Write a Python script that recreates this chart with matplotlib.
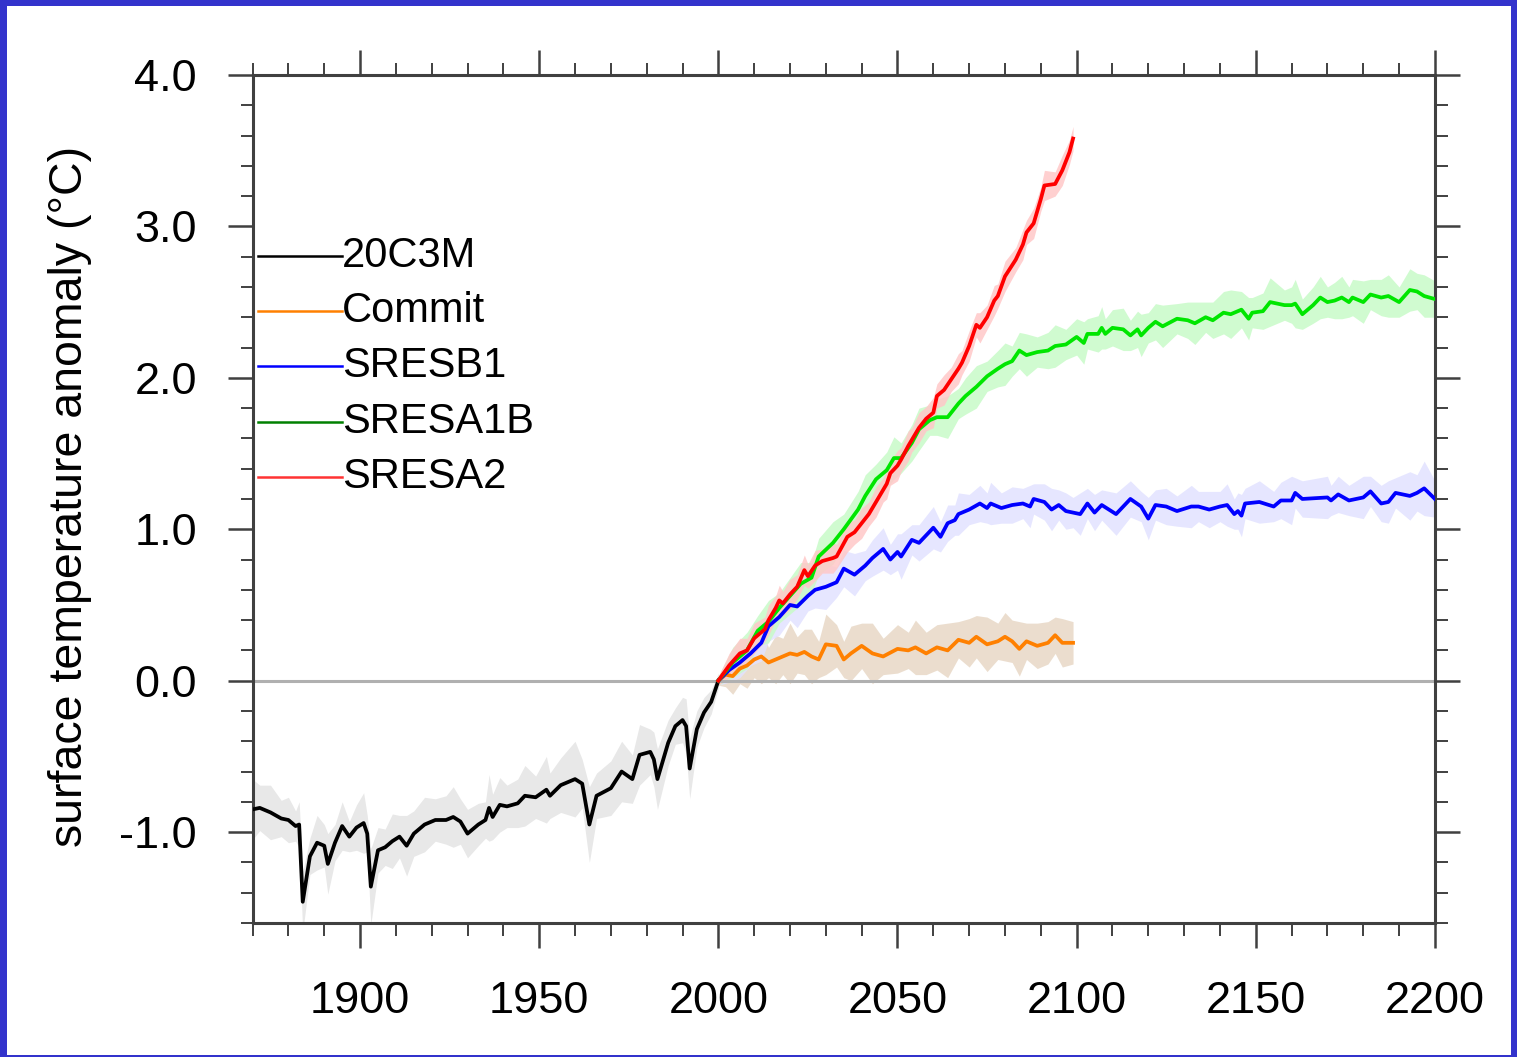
import matplotlib
matplotlib.use('Agg')
import matplotlib.pyplot as plt
from matplotlib.patches import Rectangle
from matplotlib.ticker import MultipleLocator

plt.rcParams['font.family'] = ['Liberation Sans', 'DejaVu Sans']

######### dados

# 20C3M, historico
hist_years = [1870, 1872, 1875, 1878, 1880, 1882, 1883, 1884, 1886, 1888, 1890, 1891, 1893, 1895,
              1897, 1899, 1901, 1902, 1903, 1905, 1907, 1909, 1911, 1913, 1915, 1918, 1921, 1924,
              1926, 1928, 1930, 1933, 1935, 1936, 1937, 1939, 1941, 1944, 1946, 1949, 1952, 1953,
              1956, 1960, 1962, 1964, 1966, 1970, 1973, 1976, 1978, 1981, 1982, 1983, 1986, 1988,
              1990, 1991, 1992, 1994, 1996, 1998, 2000]
hist_temp = [-0.85, -0.84, -0.87, -0.91, -0.92, -0.96, -0.95, -1.46, -1.16, -1.07, -1.09, -1.21, -1.07, -0.96,
             -1.03, -0.97, -0.94, -1.01, -1.36, -1.12, -1.10, -1.06, -1.03, -1.09, -1.01, -0.95, -0.92, -0.92,
             -0.90, -0.93, -1.01, -0.95, -0.92, -0.84, -0.90, -0.82, -0.83, -0.81, -0.76, -0.77, -0.72, -0.76,
             -0.69, -0.65, -0.68, -0.95, -0.76, -0.71, -0.60, -0.65, -0.49, -0.47, -0.52, -0.65, -0.41, -0.30,
             -0.26, -0.30, -0.58, -0.32, -0.21, -0.14, 0.00]
hist_spread = [0.20, 0.15, 0.18, 0.12, 0.15, 0.10, 0.15, 0.20, 0.12, 0.18, 0.14, 0.20, 0.12, 0.16,
               0.10, 0.15, 0.20, 0.12, 0.25, 0.15, 0.12, 0.18, 0.14, 0.20, 0.15, 0.18, 0.14, 0.16,
               0.20, 0.15, 0.16, 0.14, 0.12, 0.22, 0.15, 0.18, 0.14, 0.16, 0.20, 0.14, 0.22, 0.15,
               0.18, 0.25, 0.16, 0.25, 0.15, 0.18, 0.20, 0.16, 0.20, 0.15, 0.18, 0.20, 0.15, 0.12,
               0.15, 0.18, 0.20, 0.12, 0.10, 0.08, 0.05]

# Commit (concentracoes constantes)
commit_years = [2000, 2002, 2004, 2006, 2008, 2010, 2012, 2014, 2016, 2018, 2020, 2022, 2024, 2026,
                2028, 2030, 2033, 2035, 2037, 2040, 2043, 2046, 2050, 2053, 2055, 2058, 2061, 2064,
                2067, 2070, 2072, 2075, 2078, 2080, 2082, 2084, 2086, 2089, 2092, 2094, 2096, 2099]
commit_temp = [0.00, 0.04, 0.03, 0.08, 0.10, 0.14, 0.16, 0.12, 0.14, 0.16, 0.18, 0.17, 0.19, 0.16,
               0.14, 0.24, 0.23, 0.14, 0.18, 0.23, 0.18, 0.16, 0.21, 0.20, 0.22, 0.18, 0.22, 0.20,
               0.27, 0.25, 0.29, 0.24, 0.26, 0.29, 0.26, 0.21, 0.26, 0.23, 0.25, 0.30, 0.25, 0.25]
commit_spread = [0.03, 0.08, 0.12, 0.10, 0.15, 0.12, 0.18, 0.10, 0.16, 0.12, 0.20, 0.12, 0.15, 0.18,
                 0.12, 0.20, 0.14, 0.12, 0.18, 0.15, 0.20, 0.12, 0.16, 0.12, 0.18, 0.14, 0.15, 0.18,
                 0.12, 0.16, 0.14, 0.18, 0.12, 0.16, 0.14, 0.18, 0.12, 0.15, 0.14, 0.12, 0.16, 0.14]

# SRESB1
b1_years = [2000, 2003, 2006, 2009, 2012, 2014, 2017, 2020, 2022, 2025, 2027, 2030, 2033, 2035, 2038,
            2041, 2043, 2046, 2048, 2050, 2051, 2054, 2056, 2060, 2062, 2064, 2066, 2067, 2070, 2073,
            2075, 2076, 2079, 2082, 2085, 2087, 2088, 2091, 2093, 2095, 2097, 2099, 2101, 2103, 2105,
            2107, 2111, 2115, 2118, 2120, 2122, 2125, 2128, 2132, 2134, 2137, 2140, 2142, 2144, 2145,
            2146, 2147, 2151, 2155, 2157, 2160, 2161, 2163, 2170, 2171, 2173, 2176, 2180, 2182, 2185,
            2187, 2189, 2193, 2195, 2197, 2200]
b1_temp = [0.00, 0.07, 0.12, 0.18, 0.25, 0.36, 0.42, 0.50, 0.49, 0.56, 0.60, 0.62, 0.65, 0.74, 0.70,
           0.76, 0.81, 0.87, 0.80, 0.85, 0.82, 0.93, 0.91, 1.01, 0.95, 1.04, 1.06, 1.10, 1.13, 1.17,
           1.14, 1.17, 1.14, 1.16, 1.17, 1.15, 1.20, 1.18, 1.13, 1.16, 1.12, 1.11, 1.10, 1.17, 1.11,
           1.16, 1.10, 1.20, 1.15, 1.07, 1.16, 1.15, 1.12, 1.15, 1.15, 1.13, 1.15, 1.16, 1.10, 1.12,
           1.09, 1.17, 1.18, 1.15, 1.19, 1.19, 1.24, 1.20, 1.21, 1.19, 1.23, 1.19, 1.21, 1.25, 1.17,
           1.18, 1.24, 1.22, 1.24, 1.27, 1.20]
b1_spread = [0.03, 0.08, 0.10, 0.08, 0.12, 0.10, 0.12, 0.10, 0.14, 0.10, 0.12, 0.15, 0.10, 0.12, 0.14,
             0.10, 0.12, 0.14, 0.10, 0.12, 0.15, 0.10, 0.12, 0.14, 0.10, 0.12, 0.10, 0.14, 0.10, 0.12,
             0.10, 0.14, 0.10, 0.12, 0.10, 0.14, 0.10, 0.12, 0.14, 0.10, 0.12, 0.10, 0.14, 0.10, 0.12,
             0.10, 0.14, 0.12, 0.10, 0.14, 0.10, 0.12, 0.10, 0.14, 0.10, 0.12, 0.10, 0.14, 0.10, 0.12,
             0.14, 0.10, 0.14, 0.10, 0.12, 0.16, 0.10, 0.12, 0.14, 0.10, 0.12, 0.10, 0.14, 0.10, 0.12,
             0.14, 0.10, 0.16, 0.12, 0.18, 0.12]

# SRESA1B
a1b_years = [2000, 2004, 2008, 2011, 2014, 2017, 2020, 2023, 2026, 2028, 2032, 2035, 2039, 2041, 2044,
             2047, 2049, 2051, 2054, 2056, 2059, 2061, 2064, 2067, 2069, 2072, 2075, 2078, 2080, 2082,
             2084, 2086, 2089, 2092, 2094, 2097, 2100, 2102, 2103, 2106, 2107, 2108, 2110, 2113, 2115,
             2117, 2118, 2120, 2122, 2124, 2128, 2131, 2133, 2136, 2138, 2141, 2143, 2146, 2148, 2149,
             2152, 2154, 2158, 2160, 2161, 2163, 2166, 2168, 2170, 2172, 2174, 2176, 2177, 2180, 2182,
             2185, 2187, 2190, 2193, 2195, 2197, 2200]
a1b_temp = [0.00, 0.12, 0.20, 0.33, 0.39, 0.48, 0.56, 0.64, 0.68, 0.82, 0.91, 1.00, 1.13, 1.22, 1.33,
            1.39, 1.47, 1.47, 1.57, 1.66, 1.72, 1.74, 1.74, 1.83, 1.88, 1.94, 2.01, 2.06, 2.09, 2.11,
            2.18, 2.15, 2.17, 2.18, 2.21, 2.22, 2.27, 2.23, 2.29, 2.29, 2.33, 2.29, 2.33, 2.32, 2.28,
            2.32, 2.28, 2.33, 2.37, 2.34, 2.39, 2.38, 2.36, 2.40, 2.38, 2.43, 2.42, 2.45, 2.39, 2.43,
            2.44, 2.50, 2.48, 2.48, 2.49, 2.42, 2.48, 2.53, 2.50, 2.51, 2.53, 2.50, 2.53, 2.50, 2.55,
            2.53, 2.54, 2.50, 2.58, 2.57, 2.54, 2.52]
a1b_spread = [0.03, 0.10, 0.12, 0.10, 0.14, 0.10, 0.12, 0.14, 0.10, 0.12, 0.14, 0.10, 0.12, 0.14, 0.10,
              0.12, 0.14, 0.10, 0.12, 0.14, 0.10, 0.12, 0.14, 0.10, 0.12, 0.14, 0.10, 0.12, 0.14, 0.10,
              0.12, 0.14, 0.10, 0.12, 0.14, 0.10, 0.12, 0.14, 0.10, 0.12, 0.14, 0.10, 0.12, 0.14, 0.10,
              0.12, 0.14, 0.10, 0.12, 0.14, 0.10, 0.12, 0.14, 0.10, 0.12, 0.14, 0.16, 0.12, 0.14, 0.10,
              0.12, 0.16, 0.10, 0.12, 0.16, 0.10, 0.12, 0.14, 0.10, 0.12, 0.14, 0.10, 0.12, 0.14, 0.10,
              0.12, 0.14, 0.10, 0.14, 0.12, 0.14, 0.12]

# SRESA2
a2_years = [2000, 2003, 2006, 2008, 2010, 2013, 2014, 2016, 2017, 2018, 2020, 2022, 2024, 2025, 2027,
            2029, 2032, 2033, 2036, 2038, 2040, 2042, 2044, 2046, 2047, 2048, 2050, 2051, 2053, 2054,
            2056, 2058, 2060, 2061, 2063, 2065, 2067, 2068, 2070, 2072, 2073, 2075, 2077, 2078, 2080,
            2083, 2085, 2086, 2088, 2090, 2091, 2094, 2096, 2098, 2099]
a2_temp = [0.00, 0.10, 0.18, 0.20, 0.28, 0.34, 0.40, 0.48, 0.53, 0.51, 0.57, 0.62, 0.73, 0.69, 0.76,
           0.79, 0.81, 0.82, 0.95, 0.98, 1.04, 1.10, 1.18, 1.26, 1.30, 1.37, 1.42, 1.46, 1.55, 1.59,
           1.67, 1.73, 1.77, 1.88, 1.92, 1.99, 2.06, 2.10, 2.21, 2.35, 2.33, 2.40, 2.51, 2.54, 2.67,
           2.78, 2.88, 2.96, 3.02, 3.18, 3.27, 3.28, 3.37, 3.49, 3.58]
a2_spread = [0.03, 0.08, 0.10, 0.08, 0.10, 0.08, 0.10, 0.08, 0.10, 0.08, 0.10, 0.08, 0.10, 0.08, 0.10,
             0.08, 0.10, 0.08, 0.10, 0.08, 0.10, 0.08, 0.10, 0.08, 0.10, 0.08, 0.10, 0.08, 0.10, 0.08,
             0.10, 0.08, 0.10, 0.08, 0.10, 0.08, 0.10, 0.08, 0.10, 0.08, 0.10, 0.08, 0.10, 0.08, 0.10,
             0.08, 0.10, 0.08, 0.10, 0.08, 0.10, 0.08, 0.10, 0.08, 0.08]

series = [
    ('20C3M', hist_years, hist_temp, hist_spread, 'black', '#e4e4e4', 'black'),
    ('Commit', commit_years, commit_temp, commit_spread, '#ff8000', '#e8d8c6', '#ff8000'),
    ('SRESB1', b1_years, b1_temp, b1_spread, '#0000ff', '#e2e2ff', '#0000ff'),
    ('SRESA1B', a1b_years, a1b_temp, a1b_spread, '#00e600', '#c8fbc8', '#008000'),
    ('SRESA2', a2_years, a2_temp, a2_spread, '#ff0000', '#ffc8c8', '#ff3333'),
]

######### figura
fig = plt.figure(figsize=(15.17, 10.57), dpi=100, facecolor='#3333cc')
fig.add_artist(Rectangle((7 / 1517, 2 / 1057), 1504 / 1517, 1049 / 1057,
                         transform=fig.transFigure, facecolor='white', edgecolor='none', zorder=-1))

ax = fig.add_axes([0.1665, 0.1268, 0.7794, 0.8023])
ax.set_facecolor('white')

# faixas de espalhamento
for nome, anos, temp, spread, cor, cor_faixa, cor_leg in series:
    lo = [t - s for t, s in zip(temp, spread)]
    hi = [t + s for t, s in zip(temp, spread)]
    ax.fill_between(anos, lo, hi, color=cor_faixa, alpha=0.85, lw=0, zorder=1)

ax.axhline(0.0, color='#b0b0b0', lw=2.2, zorder=2)

for nome, anos, temp, spread, cor, cor_faixa, cor_leg in series:
    ax.plot(anos, temp, color=cor, lw=2.7, zorder=3)

# legenda desenhada a mao
y0 = 0.786
for i, (nome, anos, temp, spread, cor, cor_faixa, cor_leg) in enumerate(series):
    y = y0 - i * 0.0649
    ax.plot([0.0046, 0.0756], [y, y], color=cor_leg, lw=1.8, transform=ax.transAxes, zorder=4)
    ax.text(0.0755, y, nome, transform=ax.transAxes, fontsize=30, va='center', ha='left', zorder=4)

ax.set_xlim(1870, 2200)
ax.set_ylim(-1.6, 4.0)
ax.xaxis.set_major_locator(MultipleLocator(50))
ax.xaxis.set_minor_locator(MultipleLocator(10))
ax.yaxis.set_major_locator(MultipleLocator(1.0))
ax.yaxis.set_minor_locator(MultipleLocator(0.2))
ax.set_yticks([-1, 0, 1, 2, 3, 4])
ax.set_yticklabels(['-1.0', '0.0', '1.0', '2.0', '3.0', '4.0'])
ax.set_xticks([1900, 1950, 2000, 2050, 2100, 2150, 2200])

ax.tick_params(which='both', direction='out', top=True, right=True, color='#404040')
ax.tick_params(which='major', length=18, width=1.8, labelsize=32.5, pad=22)
ax.tick_params(axis='x', which='major', pad=24)
ax.tick_params(which='minor', length=9, width=1.4)
for sp in ax.spines.values():
    sp.set_color('#404040')
    sp.set_linewidth(2.2)

fig.text(70 / 1517, 0.53, 'surface temperature anomaly (°C)', rotation=90,
         fontsize=33.5, ha='center', va='center')

fig.savefig('out.png', dpi=100, facecolor=fig.get_facecolor())
